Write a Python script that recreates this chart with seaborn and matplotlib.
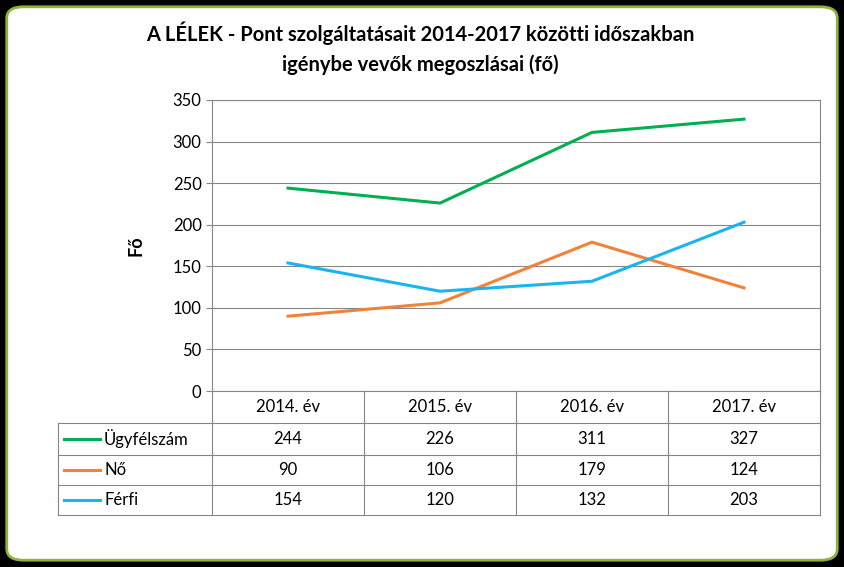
import matplotlib
matplotlib.use("Agg")
import matplotlib.pyplot as plt
from matplotlib.patches import FancyBboxPatch
import pandas as pd
import seaborn as sns

years = ["2014. év", "2015. év", "2016. év", "2017. év"]
series_names = ["Ügyfélszám", "Nő", "Férfi"]
ugyfel = [244, 226, 311, 327]
no = [90, 106, 179, 124]
ferfi = [154, 120, 132, 203]
colors = ["#00B050", "#F0823A", "#1AB4EE"]

plt.rcParams["font.family"] = "Lato"

W, H = 844, 567
fig = plt.figure(figsize=(W / 100, H / 100), dpi=100, facecolor="black")
frame = FancyBboxPatch((0.008, 0.012), 0.984, 0.976, boxstyle="round,pad=0,rounding_size=0.02",
                       transform=fig.transFigure, facecolor="white", edgecolor="#8DB33A",
                       linewidth=2, zorder=-10)
fig.add_artist(frame)

x0, x1, ytop, ybot = 212, 820, 100, 391
ax = fig.add_axes([x0 / W, 1 - ybot / H, (x1 - x0) / W, (ybot - ytop) / H])
ax.set_zorder(5)
ax.patch.set_alpha(0)

rows = []
for name, vals in zip(series_names, [ugyfel, no, ferfi]):
    for i, v in enumerate(vals):
        rows.append({"x": i, "y": v, "s": name})
df = pd.DataFrame(rows)
sns.lineplot(data=df, x="x", y="y", hue="s", palette=colors, linewidth=2.2, legend=False, ax=ax)

ax.set_xlim(-0.5, 3.5)
ax.set_ylim(0, 350)
ax.set_yticks(range(0, 351, 50))
ax.yaxis.grid(True, color="#868686", linewidth=0.8)
ax.set_axisbelow(True)
ax.set_xticks([])
ax.set_xlabel("")
ax.set_ylabel("Fő", fontsize=13, fontweight="bold", labelpad=20)
ax.tick_params(axis="y", labelsize=12, length=4, color="#868686")
for s in ax.spines.values():
    s.set_color("#868686")

# data table below the plot
pw = x1 - x0
ph = ybot - ytop
tab_left = 58
row_edges = [391, 423, 455, 485, 515]
col_edges = [tab_left, 212, 364, 516, 668, 820]

def fx(px):
    return (px - x0) / pw

def fy(py):
    return (ybot - py) / ph

kw = dict(color="#868686", linewidth=0.8, clip_on=False, transform=ax.transAxes)
for r in row_edges[1:]:
    ax.plot([fx(tab_left), 1], [fy(r), fy(r)], **kw)
for c in col_edges:
    top = row_edges[0] if c != tab_left else row_edges[1]
    ax.plot([fx(c), fx(c)], [fy(top), fy(row_edges[-1])], **kw)

for j, yr in enumerate(years):
    cx = (col_edges[j + 1] + col_edges[j + 2]) / 2
    ax.text(fx(cx), fy((row_edges[0] + row_edges[1]) / 2), yr, transform=ax.transAxes,
            ha="center", va="center", fontsize=12)
for i, (name, vals, c) in enumerate(zip(series_names, [ugyfel, no, ferfi], colors)):
    cy = fy((row_edges[i + 1] + row_edges[i + 2]) / 2)
    ax.plot([fx(64), fx(100)], [cy, cy], color=c, linewidth=2.2, clip_on=False, transform=ax.transAxes)
    ax.text(fx(104), cy, name, transform=ax.transAxes, ha="left", va="center", fontsize=12)
    for j, v in enumerate(vals):
        cx = (col_edges[j + 1] + col_edges[j + 2]) / 2
        ax.text(fx(cx), cy, str(v), transform=ax.transAxes, ha="center", va="center", fontsize=12)

fig.text(420 / W, 1 - 33 / H, "A LÉLEK - Pont szolgáltatásait 2014-2017 közötti időszakban",
         ha="center", va="center", fontsize=14.5, fontweight="bold")
fig.text(420 / W, 1 - 65 / H, "igénybe vevők megoszlásai (fő)",
         ha="center", va="center", fontsize=14.5, fontweight="bold")

fig.savefig("out.png", dpi=100, facecolor="black")
